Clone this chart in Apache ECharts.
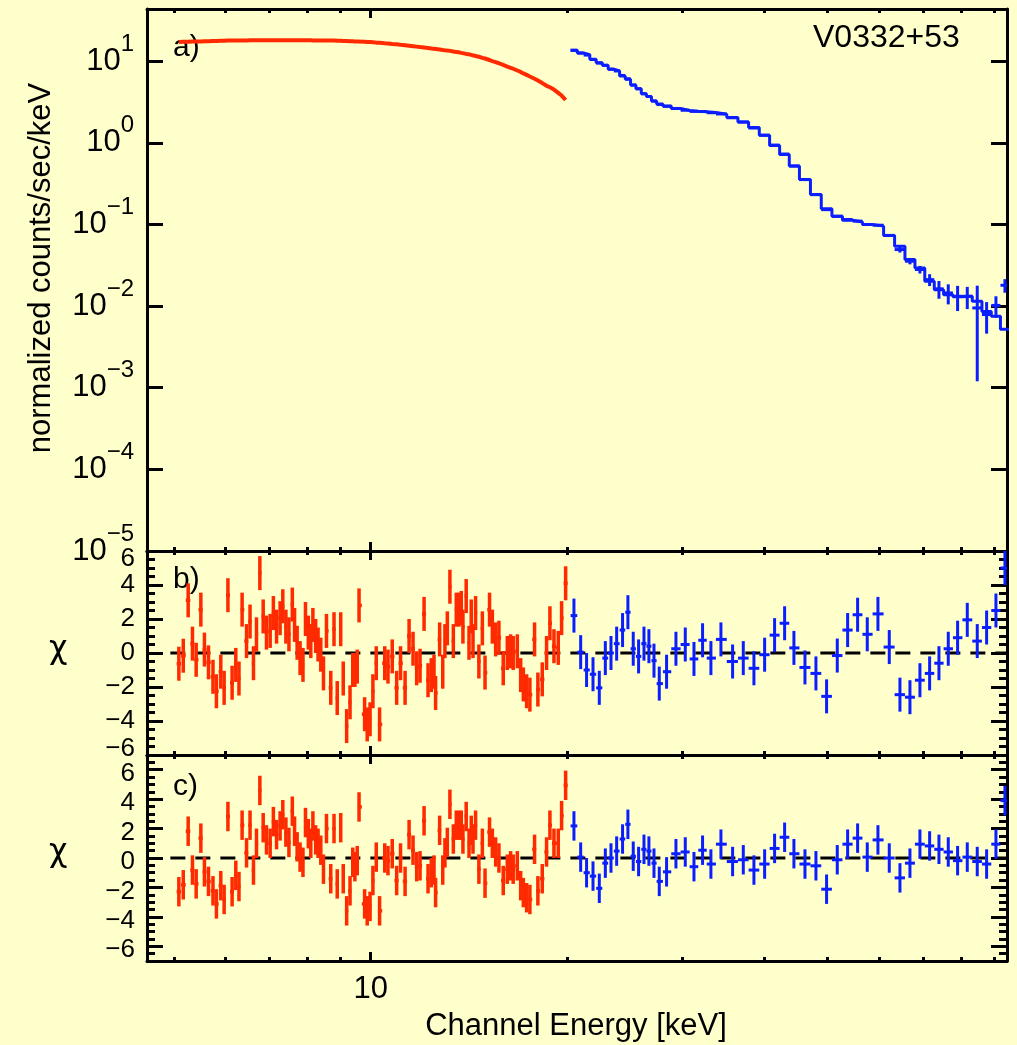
<!DOCTYPE html>
<html>
<head>
<meta charset="utf-8">
<script src="https://cdn.jsdelivr.net/npm/echarts@6/dist/echarts.min.js"></script>
<style>
  html, body { margin: 0; padding: 0; background: #ffffcc; }
  #chart { width: 1017px; height: 1045px; }
</style>
</head>
<body>
<div id="chart"></div>
<script>
const FONT = 'Liberation Sans, Arial, Helvetica, sans-serif';
const RED = '#ff2a00', BLUE = '#0a1eff', INK = '#000';
const X_MIN = 4.55, X_MAX = 94;

// axis ticks
const xMajorTicks = [10];
const xMinorTicks = [5, 6, 7, 8, 9, 20, 30, 40, 50, 60, 70, 80, 90];
const fluxTicks = [1e-5, 1e-4, 1e-3, 1e-2, 1e-1, 1, 10];
const chiTicks = [-6, -4, -2, 0, 2, 4, 6];
const zeroLineE = [4.94, 94];

// red instrument: channel energies (keV), flux, residuals of fit b) and c)
const redE = [5.09, 5.17, 5.26, 5.34, 5.41, 5.50, 5.57, 5.65, 5.74, 5.81,
  5.90, 5.97, 6.05, 6.14, 6.22, 6.29, 6.36, 6.46, 6.54, 6.62,
  6.69, 6.77, 6.85, 6.93, 7.02, 7.10, 7.18, 7.27, 7.34, 7.42,
  7.50, 7.59, 7.65, 7.72, 7.80, 7.88, 7.95, 8.03, 8.10, 8.16,
  8.24, 8.31, 8.39, 8.47, 8.56, 8.69, 8.79, 8.89, 9.00, 9.08,
  9.19, 9.30, 9.39, 9.46, 9.54, 9.60, 9.79, 9.88, 9.98, 10.08,
  10.20, 10.32, 10.51, 10.63, 10.79, 10.96, 11.11, 11.29, 11.45, 11.61,
  11.76, 11.90, 12.07, 12.24, 12.38, 12.50, 12.57, 12.75, 12.89, 12.99,
  13.10, 13.22, 13.38, 13.52, 13.65, 13.76, 13.84, 14.00, 14.14, 14.25,
  14.34, 14.47, 14.64, 14.82, 14.96, 15.20, 15.35, 15.53, 15.71, 15.95,
  16.18, 16.37, 16.52, 16.76, 16.96, 17.12, 17.32, 17.52, 17.81, 18.02,
  18.30, 18.58, 18.80, 19.07, 19.36, 19.59, 19.87];
const redFlux = [17.2, 17.3, 17.3, 17.4, 17.4, 17.5, 17.6, 17.6, 17.7, 17.7,
  17.8, 17.8, 17.9, 17.9, 17.9, 18.0, 18.0, 18.0, 18.1, 18.1,
  18.1, 18.1, 18.1, 18.1, 18.1, 18.1, 18.1, 18.1, 18.1, 18.1,
  18.1, 18.1, 18.1, 18.1, 18.1, 18.1, 18.1, 18.1, 18.1, 18.0,
  18.0, 18.0, 18.0, 18.0, 17.9, 17.9, 17.9, 17.8, 17.8, 17.7,
  17.7, 17.6, 17.6, 17.5, 17.5, 17.4, 17.3, 17.2, 17.2, 17.1,
  16.9, 16.8, 16.6, 16.5, 16.3, 16.1, 15.9, 15.7, 15.5, 15.3,
  15.1, 14.9, 14.7, 14.5, 14.3, 14.2, 14.1, 13.9, 13.7, 13.6,
  13.5, 13.4, 13.15, 13.0, 12.85, 12.65, 12.6, 12.3, 12.15, 11.95,
  11.85, 11.6, 11.35, 11.0, 10.8, 10.35, 10.05, 9.75, 9.45, 9.0,
  8.6, 8.3, 8.1, 7.7, 7.4, 7.1, 6.8, 6.5, 6.1, 5.8,
  5.4, 5.0, 4.8, 4.5, 4.1, 3.8, 3.35];
const redChiB = [-0.63, -0.16, 3.1, 0.55, -0.4, 2.55, 0.2, -0.55, -1.4, -2.25,
  -1.1, -2.05, 3.4, -1.75, -0.7, -1.5, 2.55, 0.7, 1.85, -0.6,
  1.1, 4.7, 2.15, 1.2, 1.3, 2.35, 1.55, 2.05, 2.75, 1.55,
  1.1, 2.85, 1.65, 0.6, -0.3, -0.7, 2.0, 1.2, 0.7, 1.65,
  1.0, 0.5, -0.1, -1.2, 1.3, -2.05, 1.4, -2.65, 1.4, -1.5,
  -4.3, -2.9, -1.0, -1.0, -0.8, 2.8, -3.6, -4.2, -3.9, -2.25,
  -0.6, -4.2, -0.6, -0.8, -0.2, -2.05, -0.6, -2.05, 1.0, 0.25,
  -0.9, -0.75, 2.3, -1.6, -1.3, -1.1, -2.35, 0.8, -1.1, 0.7,
  1.45, 3.9, 0.7, 2.55, 2.55, 2.65, 1.55, 3.35, 0.6, 2.15,
  0.7, 2.35, -0.5, 1.45, -1.15, 2.55, 1.55, 0.8, 0.9, -0.9,
  0, 0.1, 0, 0.1, -1.3, -1.85, -2.25, -2.45, 0.8, -2.15,
  -1.55, 0, 1.75, 0.4, 0.3, 2.05, 4.1];
const redChiC = [-2.29, -1.82, 1.82, -0.82, -1.76, 1.35, -0.94, -1.59, -2.23, -3.12,
  -1.88, -2.82, 2.82, -2.29, -1.18, -1.94, 2.23, 0.35, 2.23, -0.82,
  1.0, 4.59, 2.06, 1.23, 1.0, 2.47, 1.59, 2.18, 2.94, 1.76,
  1.06, 3.18, 1.82, 0.76, 0.06, -0.29, 2.41, 1.65, 1.0, 2.18,
  1.23, 1.0, 0.53, -0.76, 2.0, -1.41, 2.0, -1.76, 2.06, -1.41,
  -3.59, -2.23, -0.29, -0.59, -0.18, 3.47, -3.12, -3.59, -3.29, -1.53,
  0.06, -3.59, 0, -0.18, 0.29, -1.53, 0, -1.59, 1.59, 0.53,
  -0.59, -0.53, 2.53, -1.41, -1.0, -0.82, -2.35, 1.88, -0.82, 0.35,
  1.06, 3.65, 1.29, 2.23, 2.23, 2.23, 1.29, 2.82, 1.0, 1.88,
  1.29, 2.23, -0.76, 1.0, -1.71, 1.76, 1.0, 0.41, 0, -1.53,
  -0.76, -0.53, -0.76, -0.53, -1.88, -2.35, -2.7, -2.82, 0.59, -2.23,
  -1.41, 0.41, 2.23, 1.0, 1.0, 2.88, 4.94];

// blue instrument: bin energies (keV), model, data, data error, residuals b) and c)
const blueE = [20.46, 20.95, 21.39, 21.88, 22.37, 22.85, 23.31, 23.78, 24.28, 24.74,
  25.21, 25.69, 26.18, 26.64, 27.12, 27.63, 28.35, 29.30, 30.28, 31.22,
  32.18, 33.14, 34.33, 35.77, 37.14, 38.56, 40.04, 41.47, 42.96, 44.39,
  46.15, 47.97, 49.80, 51.71, 53.63, 55.55, 57.47, 59.67, 62.10, 64.48,
  66.79, 69.18, 71.58, 73.97, 76.44, 78.99, 81.73, 84.65, 87.49, 90.41,
  93.32];
const blueModel = [13.6, 12.6, 12.0, 10.6, 9.6, 8.9, 8.0, 7.6, 6.6, 6.0,
  5.1, 4.6, 4.0, 3.7, 3.26, 3.0, 2.83, 2.63, 2.50, 2.44,
  2.40, 2.35, 2.24, 2.04, 1.80, 1.54, 1.24, 0.93, 0.72, 0.52,
  0.356, 0.233, 0.156, 0.126, 0.113, 0.107, 0.100, 0.0955, 0.0733, 0.0542,
  0.0372, 0.0294, 0.0201, 0.0159, 0.0138, 0.0130, 0.0132, 0.0115, 0.0086, 0.0075,
  0.0052];
const blueFlux = [13.6, 12.6, 11.9, 10.5, 9.5, 8.9, 8.0, 7.6, 6.7, 6.1,
  5.1, 4.6, 4.0, 3.7, 3.25, 2.95, 2.8, 2.64, 2.51, 2.43,
  2.42, 2.34, 2.26, 2.03, 1.80, 1.52, 1.24, 0.94, 0.73, 0.52,
  0.355, 0.232, 0.152, 0.126, 0.115, 0.110, 0.100, 0.098, 0.0735, 0.0493,
  0.0355, 0.0281, 0.0211, 0.0163, 0.0145, 0.0132, 0.0132, 0.0095, 0.0079, 0.0102,
  0.018];
const blueFluxErr = [0.15, 0.14, 0.13, 0.12, 0.11, 0.10, 0.09, 0.08, 0.07, 0.07,
  0.06, 0.05, 0.05, 0.04, 0.04, 0.035, 0.03, 0.03, 0.03, 0.03,
  0.03, 0.03, 0.03, 0.025, 0.025, 0.02, 0.02, 0.015, 0.012, 0.01,
  0.008, 0.006, 0.004, 0.004, 0.003, 0.003, 0.003, 0.003, 0.003, 0.004,
  0.003, 0.003, 0.0035, 0.004, 0.004, 0.0045, 0.004, 0.0083, 0.0033, 0.003,
  0.0034];
const blueChiB = [2.2, 0.05, -1.0, -1.25, -2.05, -0.3, 0, 0.55, 1.35, 2.4,
  0.25, -0.2, 0.55, 0.4, -0.45, -1.8, -1.1, 0.25, 0.5, -0.35,
  0.75, -0.3, 0.8, -0.5, -0.3, -0.9, -0.1, 1.05, 1.75, 0.3,
  -0.85, -1.2, -2.55, -0.15, 1.35, 2.25, 1.1, 2.3, 0.35, -2.45,
  -2.6, -1.6, -1.2, -0.6, 0.25, 0.9, 1.95, 0.7, 1.5, 2.5,
  5.0];
const blueChiC = [2.18, 0.06, -1.0, -1.23, -2.06, -0.35, 0, 0.47, 1.29, 2.29,
  0.12, -0.24, 0.59, 0.47, -0.35, -1.59, -0.94, 0.29, 0.41, -0.59,
  0.53, -0.41, 0.94, -0.24, -0.12, -0.82, -0.41, 0.65, 1.41, 0.29,
  -0.41, -0.53, -2.12, -0.12, 0.94, 1.35, 0.06, 1.23, 0, -1.35,
  -0.35, 0.94, 0.82, 0.59, 0.41, -0.18, 0.06, -0.24, -0.41, 0.94,
  3.9];

// bin edges from neighbouring channel centres (log midpoints)
function binEdges(e) {
  let n = e.length, edges = [];
  let first = Math.sqrt(e[0] * e[1]);
  edges.push(e[0] * e[0] / first);
  for (let i = 1; i < n; i++) edges.push(Math.sqrt(e[i - 1] * e[i]));
  edges.push(e[n - 1] * e[n - 1] / edges[n - 1]);
  return edges;
}
const redEdges = binEdges(redE);
const blueEdges = binEdges(blueE);

// step line for the blue model
let blueStep = [];
blueE.forEach((e, i) => {
  blueStep.push([blueEdges[i], blueModel[i]]);
  blueStep.push([blueEdges[i + 1], blueModel[i]]);
});

function crossData(e, edges, vals, errs) {
  return e.map((x, i) => [x, vals[i], errs ? errs[i] : 1, edges[i], edges[i + 1]]);
}

// error cross: vertical +-err, horizontal over the bin, clamped to the panel
function crossRender(color, logY, width) {
  return function (params, api) {
    let cs = params.coordSys;
    let x = api.value(0), y = api.value(1), err = api.value(2);
    let lo = api.value(3), hi = api.value(4);
    let yl = y - err;
    if (logY && yl <= 0) yl = 1e-12;
    let p1 = api.coord([x, yl]), p2 = api.coord([x, y + err]);
    let q1 = api.coord([lo, y]), q2 = api.coord([hi, y]);
    let top = cs.y, bot = cs.y + cs.height, left = cs.x, right = cs.x + cs.width;
    let cy = v => Math.min(Math.max(v, top), bot);
    let cx = v => Math.min(Math.max(v, left), right);
    let st = { stroke: color, lineWidth: width };
    let kids = [];
    if (p1[0] >= left && p1[0] <= right) {
      kids.push({ type: 'line', shape: { x1: p1[0], y1: cy(p1[1]), x2: p2[0], y2: cy(p2[1]) }, style: st });
    }
    if (q1[1] >= top && q1[1] <= bot) {
      kids.push({ type: 'line', shape: { x1: cx(q1[0]), y1: q1[1], x2: cx(q2[0]), y2: q2[1] }, style: st });
    }
    return { type: 'group', children: kids };
  };
}

const axisLine = { show: true, onZero: false, lineStyle: { color: INK, width: 3 } };
const noLine = { show: false, onZero: false };

// four x axes per panel: bottom/top, major/minor ticks
function xAxesFor(grid, withLabel) {
  let base = { gridIndex: grid, type: 'log', min: X_MIN, max: X_MAX, splitLine: { show: false }, minorTick: { show: false } };
  let major = (pos, line, label) => Object.assign({}, base, {
    position: pos,
    axisLine: line ? axisLine : noLine,
    axisTick: { show: true, inside: true, length: 9, customValues: xMajorTicks, lineStyle: { color: INK, width: 3 } },
    axisLabel: label ? { show: true, customValues: xMajorTicks, formatter: '{value}', margin: 13, color: INK, fontSize: 31, fontFamily: FONT } : { show: false }
  });
  let minor = pos => Object.assign({}, base, {
    position: pos,
    axisLine: noLine,
    axisTick: { show: true, inside: true, length: 4, customValues: xMinorTicks, lineStyle: { color: INK, width: 3 } },
    axisLabel: { show: false }
  });
  return [major('bottom', true, withLabel), minor('bottom'), major('top', true, false), minor('top')];
}

function fluxLabel(v) {
  let n = Math.round(Math.log10(v));
  return '{b|10}{s|' + (n < 0 ? '\u2212' + (-n) : n) + '}';
}
function chiText(v) {
  return v < 0 ? '\u2212' + (-v) : '' + v;
}

// residual panel y axes (left major, left minor, right major, right minor)
function chiAxesFor(grid, range, labelOpt) {
  let base = { gridIndex: grid, type: 'value', min: -range, max: range, splitLine: { show: false } };
  let major = (pos, label) => Object.assign({}, base, {
    position: pos,
    axisLine: axisLine,
    axisTick: { show: true, inside: true, length: 16, customValues: chiTicks, lineStyle: { color: INK, width: 3 } },
    axisLabel: label ? Object.assign({ show: true, customValues: chiTicks, margin: 12 }, labelOpt) : { show: false }
  });
  let minor = pos => Object.assign({}, base, {
    position: pos, interval: 0.5,
    axisLine: noLine,
    axisTick: { show: true, inside: true, length: 8, lineStyle: { color: INK, width: 3 } },
    axisLabel: { show: false }
  });
  return [major('left', true), minor('left'), major('right', false), minor('right')];
}

const tickFont = { fontSize: 26, fontFamily: FONT, color: INK };
const labelB = {
  formatter: v => {
    let s = chiText(v);
    if (v === 6) return '{t|' + s + '}';
    if (v === -6) return '{u|' + s + '}';
    return '{n|' + s + '}';
  },
  rich: {
    n: Object.assign({ lineHeight: 22 }, tickFont),
    t: Object.assign({ lineHeight: 22, padding: [16, 0, 0, 0] }, tickFont),
    u: Object.assign({ lineHeight: 22, padding: [0, 0, 12, 0] }, tickFont)
  }
};
const labelC = {
  formatter: v => '{n|' + chiText(v) + '}',
  rich: { n: Object.assign({ padding: [8, 0, 0, 0] }, tickFont) },
  showMinLabel: true, showMaxLabel: true, hideOverlap: false
};

const fluxAxis = pos => ({
  gridIndex: 0, type: 'log', position: pos, min: 1e-5, max: 43.65,
  axisLine: axisLine, splitLine: { show: false }, minorTick: { show: false },
  axisTick: { show: true, inside: true, length: 16, customValues: fluxTicks, lineStyle: { color: INK, width: 3 } },
  axisLabel: pos === 'left' ? {
    show: true, customValues: fluxTicks, formatter: fluxLabel, margin: 13,
    rich: {
      b: { fontSize: 31, fontFamily: FONT, color: INK },
      s: { fontSize: 24, fontFamily: FONT, color: INK, padding: [0, 0, 34, 0] }
    }
  } : { show: false }
});

const zeroLine = grid => ({
  type: 'line', xAxisIndex: grid * 4, yAxisIndex: grid === 1 ? 2 : 6, silent: true,
  data: zeroLineE.map(e => [e, 0]), showSymbol: false, z: 1,
  lineStyle: { color: INK, width: 3, type: [15, 10] }
});

const label = (x, y, text, size, family) => ({
  type: 'text', x: x, y: y,
  style: { text: text, fill: INK, font: size + 'px ' + (family || FONT), textAlign: 'left', textVerticalAlign: 'middle' }
});

let chart = echarts.init(document.getElementById('chart'));
let option = {
  animation: false,
  backgroundColor: '#ffffcc',
  grid: [
    { left: 147, right: 10, top: 9, height: 542 },
    { left: 147, right: 10, top: 551, height: 204 },
    { left: 147, right: 10, top: 755, height: 206 }
  ],
  xAxis: [].concat(xAxesFor(0, false), xAxesFor(1, false), xAxesFor(2, true)),
  yAxis: [fluxAxis('left'), fluxAxis('right')]
    .concat(chiAxesFor(1, 6, labelB))
    .concat(chiAxesFor(2, 7, labelC)),
  series: [
    // a) spectra
    {
      type: 'line', xAxisIndex: 0, yAxisIndex: 0, silent: true, showSymbol: false,
      data: redE.map((e, i) => [e, redFlux[i]]),
      lineStyle: { color: RED, width: 4 }
    },
    {
      type: 'line', xAxisIndex: 0, yAxisIndex: 0, silent: true, showSymbol: false,
      data: blueStep, lineStyle: { color: BLUE, width: 3 }
    },
    {
      type: 'custom', xAxisIndex: 0, yAxisIndex: 0, silent: true,
      renderItem: crossRender(BLUE, true, 3),
      data: crossData(blueE, blueEdges, blueFlux, blueFluxErr)
    },
    // b) residuals
    zeroLine(1),
    { type: 'custom', xAxisIndex: 4, yAxisIndex: 2, silent: true, renderItem: crossRender(RED, false, 3.5), data: crossData(redE, redEdges, redChiB) },
    { type: 'custom', xAxisIndex: 4, yAxisIndex: 2, silent: true, renderItem: crossRender(BLUE, false, 3), data: crossData(blueE, blueEdges, blueChiB) },
    // c) residuals
    zeroLine(2),
    { type: 'custom', xAxisIndex: 8, yAxisIndex: 6, silent: true, renderItem: crossRender(RED, false, 3.5), data: crossData(redE, redEdges, redChiC) },
    { type: 'custom', xAxisIndex: 8, yAxisIndex: 6, silent: true, renderItem: crossRender(BLUE, false, 3), data: crossData(blueE, blueEdges, blueChiC) }
  ],
  graphic: [
    label(813, 38, 'V0332+53', 32),
    label(173, 48, 'a)', 30),
    label(173, 580, 'b)', 30),
    label(173, 787, 'c)', 30),
    label(49, 650, '\u03c7', 32, 'DejaVu Sans'),
    label(49, 853, '\u03c7', 32, 'DejaVu Sans'),
    {
      type: 'text', x: 41, y: 268, rotation: Math.PI / 2,
      style: { text: 'normalized counts/sec/keV', fill: INK, font: '31px ' + FONT, textAlign: 'center', textVerticalAlign: 'middle' }
    },
    {
      type: 'text', x: 576, y: 1026,
      style: { text: 'Channel Energy [keV]', fill: INK, font: '31px ' + FONT, textAlign: 'center', textVerticalAlign: 'middle' }
    }
  ]
};
chart.setOption(option);
</script>
</body>
</html>
